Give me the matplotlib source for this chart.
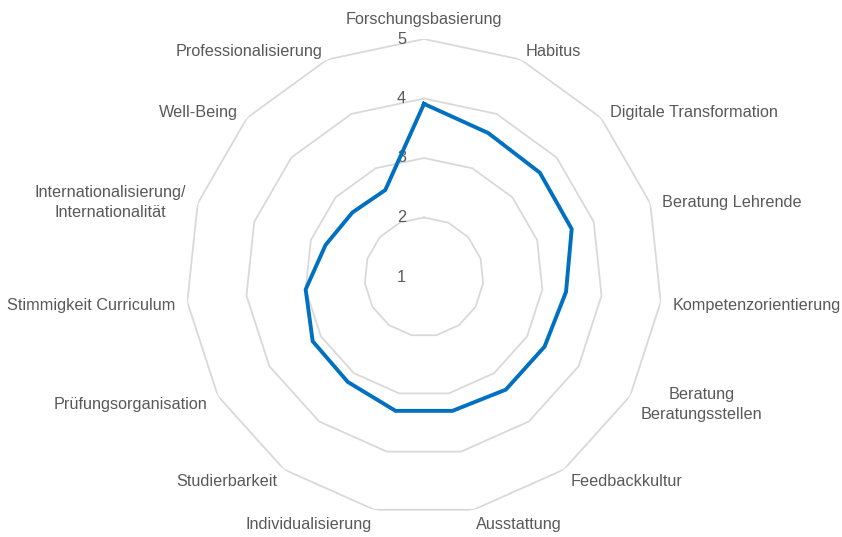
import numpy as np
import matplotlib
matplotlib.use('Agg')
import matplotlib.pyplot as plt

plt.rcParams['font.family'] = ['Liberation Sans', 'DejaVu Sans']

categories = ['Forschungsbasierung', 'Habitus', 'Digitale Transformation', 'Beratung Lehrende',
              'Kompetenzorientierung', 'Beratung\nBeratungsstellen', 'Feedbackkultur', 'Ausstattung',
              'Individualisierung', 'Studierbarkeit', 'Prüfungsorganisation', 'Stimmigkeit Curriculum',
              'Internationalisierung/\nInternationalität', 'Well-Being', 'Professionalisierung']
values = [3.91, 3.65, 3.62, 3.61, 3.40, 3.34, 3.34, 3.30, 3.30, 3.18, 3.16, 3.00, 2.74, 2.62, 2.60]
levels = [1, 2, 3, 4, 5]

text_color = '#595959'
grid_color = '#D9D9D9'
line_color = '#0070C0'

n = len(categories)
angles = np.arange(n) * 2 * np.pi / n
closed = np.append(angles, angles[0])

fig = plt.figure(figsize=(8.42, 5.37), dpi=100)
ax = fig.add_axes([186 / 842, 22 / 537, 476 / 842, 476 / 537], projection='polar')
ax.set_theta_zero_location('N')
ax.set_theta_direction(-1)
ax.set_ylim(levels[0], levels[-1])
ax.grid(False)
ax.spines['polar'].set_visible(False)
ax.set_xticks([])
ax.set_yticks([])
ax.patch.set_visible(False)

# polygon rings
for lv in levels[1:]:
    ax.plot(closed, [lv] * (n + 1), color=grid_color, lw=1.3, zorder=1)

# data line
ax.plot(closed, np.append(values, values[0]), color=line_color, lw=2.8, zorder=3,
        solid_joinstyle='miter')

# radial tick labels
for lv in levels:
    ax.annotate(str(lv), xy=(0, lv), xytext=(-18, 0), textcoords='offset pixels',
                ha='right', va='center', fontsize=11.7, color=text_color, zorder=2)

# category labels
off = 12
for a, lab in zip(angles, categories):
    s, c = np.sin(a), np.cos(a)
    if s > 0.05:
        ha = 'left'
    elif s < -0.05:
        ha = 'right'
    else:
        ha = 'center'
    if c > 0.99:
        va, dy = 'bottom', 0
    else:
        va, dy = 'center', -2.5
    ax.annotate(lab, xy=(a, levels[-1]), xytext=(off * s, off * c + dy), textcoords='offset pixels',
                ha=ha, va=va, multialignment='center', linespacing=1.45,
                fontsize=11.7, color=text_color)

fig.savefig('out.png', dpi=100)
